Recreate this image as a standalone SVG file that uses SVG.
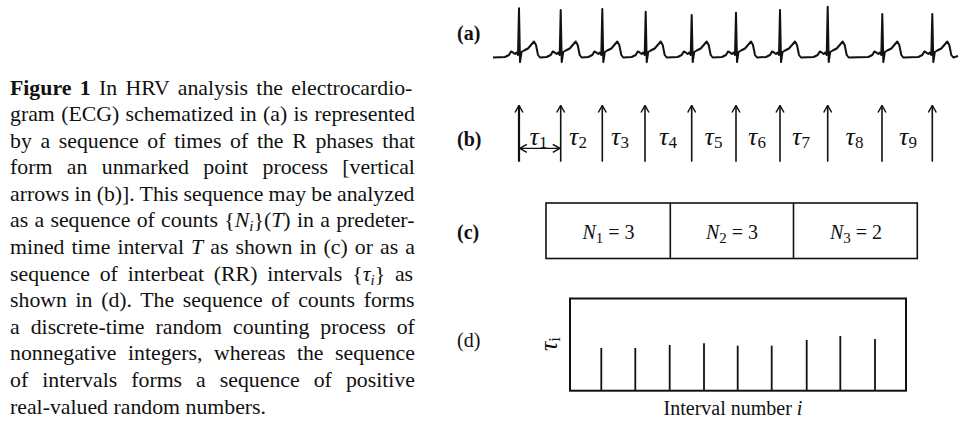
<svg xmlns="http://www.w3.org/2000/svg" width="962" height="422" viewBox="0 0 962 422">
<style>
.cap{font-family:"Liberation Serif","Times New Roman",serif;font-size:21.8px;fill:#111}
.lab{font-family:"Liberation Serif","Times New Roman",serif;font-size:20px;fill:#111}
.tau{font-family:"Liberation Serif","Times New Roman",serif;font-size:26px;font-style:italic;fill:#111}
.sub{font-size:17px;font-style:normal}
.ln{stroke:#111;fill:none}
.it{font-style:italic}
</style>
<defs>
<marker id="ah" viewBox="-9 -5 10 10" refX="0" refY="0" markerWidth="10" markerHeight="10" orient="auto-start-reverse" markerUnits="userSpaceOnUse">
<path d="M-7,-4 L0,0 L-7,4" fill="none" stroke="#111" stroke-width="1.5"/>
</marker>
</defs>

<g id="caption" class="cap">
<text x="10" y="94.5" word-spacing="2.92"><tspan font-weight="bold">Figure 1</tspan> In HRV analysis the electrocardio-</text>
<text x="10" y="121" word-spacing="0.91">gram (ECG) schematized in (a) is represented</text>
<text x="10" y="147.6" word-spacing="3.22">by a sequence of times of the R phases that</text>
<text x="10" y="174.2" word-spacing="8.95">form an unmarked point process [vertical</text>
<text x="10" y="200.8" word-spacing="-0.26">arrows in (b)]. This sequence may be analyzed</text>
<text x="10" y="227.4" word-spacing="0.86">as a sequence of counts {<tspan class="it">N</tspan><tspan class="it" font-size="15" dy="4">i</tspan><tspan dy="-4">}(</tspan><tspan class="it">T</tspan>) in a predeter-</text>
<text x="10" y="254" word-spacing="1.63">mined time interval <tspan class="it">T</tspan> as shown in (c) or as a</text>
<text x="10" y="280.6" word-spacing="4.4">sequence of interbeat (RR) intervals {<tspan class="it">τ</tspan><tspan class="it" font-size="15" dy="4">i</tspan><tspan dy="-4">}</tspan> as</text>
<text x="10" y="307.2" word-spacing="3.2">shown in (d). The sequence of counts forms</text>
<text x="10" y="333.8" word-spacing="5.56">a discrete-time random counting process of</text>
<text x="10" y="360.4" word-spacing="6.05">nonnegative integers, whereas the sequence</text>
<text x="10" y="387" word-spacing="8.57">of intervals forms a sequence of positive</text>
<text x="10" y="413.6">real-valued random numbers.</text>
</g>

<g id="panel-a">
<text class="lab" x="457" y="40" font-weight="bold">(a)</text>
<path class="ln" stroke-width="2" stroke-linejoin="round" d="M493,57.5 L505,57
L509,55 L511,51.5 L513,52.5 L515,54 L516.5,52.5 L518,55 L519,8.3 L520,62 L521.5,52 L524,50.5 L528,48.5 L531,45 L534,41.5 L536,45 L538,55 L540,57.5
L546.7,57 L550.7,55 L552.7,51.5 L554.7,52.5 L556.7,54 L558.2,52.5 L559.7,55 L560.7,10 L561.7,62 L563.2,52 L565.7,50.5 L569.7,48.5 L572.7,45 L575.7,41.5 L577.7,45 L579.7,55 L581.7,57.5
L588.3,57 L592.3,55 L594.3,51.5 L596.3,52.5 L598.3,54 L599.8,52.5 L601.3,55 L602.3,9 L603.3,62 L604.8,52 L607.3,50.5 L611.3,48.5 L614.3,45 L617.3,41.5 L619.3,45 L621.3,55 L623.3,57.5
L631.7,57 L635.7,55 L637.7,51.5 L639.7,52.5 L641.7,54 L643.2,52.5 L644.7,55 L645.7,11.7 L646.7,62 L648.2,52 L650.7,50.5 L654.7,48.5 L657.7,45 L660.7,41.5 L662.7,45 L664.7,55 L666.7,57.5
L677.7,57 L681.7,55 L683.7,51.5 L685.7,52.5 L687.7,54 L689.2,52.5 L690.7,55 L691.7,15 L692.7,62 L694.2,52 L696.7,50.5 L700.7,48.5 L703.7,45 L706.7,41.5 L708.7,45 L710.7,55 L712.7,57.5
L722,57 L726,55 L728,51.5 L730,52.5 L732,54 L733.5,52.5 L735,55 L736,12.7 L737,62 L738.5,52 L741,50.5 L745,48.5 L748,45 L751,41.5 L753,45 L755,55 L757,57.5
L766,57 L770,55 L772,51.5 L774,52.5 L776,54 L777.5,52.5 L779,55 L780,10 L781,62 L782.5,52 L785,50.5 L789,48.5 L792,45 L795,41.5 L797,45 L799,55 L801,57.5
L813.7,57 L817.7,55 L819.7,51.5 L821.7,52.5 L823.7,54 L825.2,52.5 L826.7,55 L827.7,6.7 L828.7,62 L830.2,52 L832.7,50.5 L836.7,48.5 L839.7,45 L842.7,41.5 L844.7,45 L846.7,55 L848.7,57.5
L868.3,57 L872.3,55 L874.3,51.5 L876.3,52.5 L878.3,54 L879.8,52.5 L881.3,55 L882.3,14 L883.3,62 L884.8,52 L887.3,50.5 L891.3,48.5 L894.3,45 L897.3,41.5 L899.3,45 L901.3,55 L903.3,57.5
L918.3,57 L922.3,55 L924.3,51.5 L926.3,52.5 L928.3,54 L929.8,52.5 L931.3,55 L932.3,14 L933.3,62 L934.8,52 L937.3,50.5 L941.3,48.5 L944.3,45 L947.3,41.5 L949.3,45 L951.3,55 L953.3,57.5 L958,56"/>
</g>

<g id="panel-b">
<text class="lab" x="457" y="146" font-weight="bold">(b)</text>
<g class="ln" stroke-width="1.6" marker-end="url(#ah)">
<line x1="519" y1="161.7" x2="519" y2="105.5" stroke-width="2.2"/>
<line x1="560.7" y1="161.7" x2="560.7" y2="105.5"/>
<line x1="602.3" y1="161.7" x2="602.3" y2="105.5"/>
<line x1="645" y1="161.7" x2="645" y2="105.5"/>
<line x1="691.7" y1="161.7" x2="691.7" y2="105.5"/>
<line x1="736" y1="161.7" x2="736" y2="105.5"/>
<line x1="780" y1="161.7" x2="780" y2="105.5"/>
<line x1="827.7" y1="161.7" x2="827.7" y2="105.5"/>
<line x1="882" y1="161.7" x2="882" y2="105.5"/>
<line x1="932.3" y1="161.7" x2="932.3" y2="105.5"/>
</g>
<line class="ln" x1="519.8" y1="148.3" x2="559.8" y2="148.3" stroke-width="1.3" marker-start="url(#ah)" marker-end="url(#ah)"/>
<g class="tau" text-anchor="middle">
<text x="538.5" y="145">τ<tspan class="sub" dy="3">1</tspan></text>
<text x="578" y="145">τ<tspan class="sub" dy="3">2</tspan></text>
<text x="620" y="145">τ<tspan class="sub" dy="3">3</tspan></text>
<text x="668" y="145">τ<tspan class="sub" dy="3">4</tspan></text>
<text x="713.5" y="145">τ<tspan class="sub" dy="3">5</tspan></text>
<text x="757" y="145">τ<tspan class="sub" dy="3">6</tspan></text>
<text x="801" y="145">τ<tspan class="sub" dy="3">7</tspan></text>
<text x="854.5" y="145">τ<tspan class="sub" dy="3">8</tspan></text>
<text x="908" y="145">τ<tspan class="sub" dy="3">9</tspan></text>
</g>
</g>

<g id="panel-c">
<text class="lab" x="457" y="239" font-weight="bold">(c)</text>
<rect class="ln" x="546" y="203" width="371.3" height="55.5" stroke-width="1.6"/>
<line class="ln" x1="670.3" y1="203" x2="670.3" y2="258.5" stroke-width="1.6"/>
<line class="ln" x1="793.5" y1="203" x2="793.5" y2="258.5" stroke-width="1.6"/>
<g class="lab" font-size="21.5" text-anchor="middle">
<text x="608.5" y="239"><tspan class="it">N</tspan><tspan font-size="15" dy="4">1</tspan><tspan dy="-4"> = 3</tspan></text>
<text x="732" y="239"><tspan class="it">N</tspan><tspan font-size="15" dy="4">2</tspan><tspan dy="-4"> = 3</tspan></text>
<text x="856" y="239"><tspan class="it">N</tspan><tspan font-size="15" dy="4">3</tspan><tspan dy="-4"> = 2</tspan></text>
</g>
</g>

<g id="panel-d">
<text class="lab" x="457" y="347">(d)</text>
<rect class="ln" x="570" y="298.5" width="336" height="92.2" stroke-width="2"/>
<g class="ln" stroke-width="1.8">
<line x1="601.3" y1="390.7" x2="601.3" y2="348"/>
<line x1="635.3" y1="390.7" x2="635.3" y2="348"/>
<line x1="669.7" y1="390.7" x2="669.7" y2="345"/>
<line x1="704" y1="390.7" x2="704" y2="343.3"/>
<line x1="737.7" y1="390.7" x2="737.7" y2="345.7"/>
<line x1="771.7" y1="390.7" x2="771.7" y2="345.7"/>
<line x1="806.7" y1="390.7" x2="806.7" y2="340"/>
<line x1="840.3" y1="390.7" x2="840.3" y2="336"/>
<line x1="875" y1="390.7" x2="875" y2="339"/>
</g>
<text class="tau" transform="translate(557,351) rotate(-90)">τ<tspan class="sub" font-style="italic" dy="3">i</tspan></text>
<text class="lab" font-size="22.5" x="733" y="415" text-anchor="middle">Interval number <tspan class="it">i</tspan></text>
</g>
</svg>
